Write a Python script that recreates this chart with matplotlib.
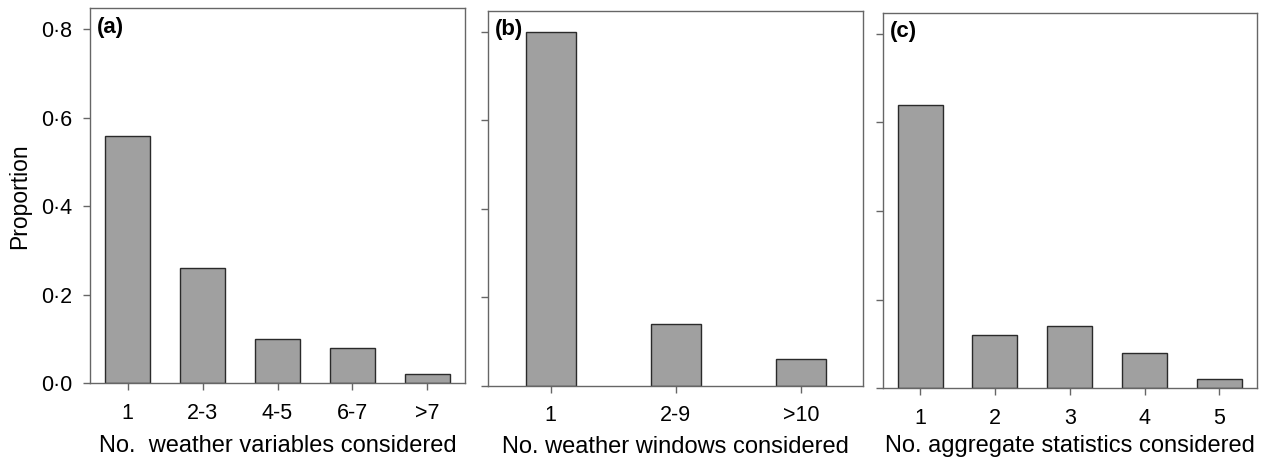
import matplotlib
matplotlib.use("Agg")
import matplotlib.pyplot as plt

plt.rcParams['font.family'] = ['Liberation Sans', 'DejaVu Sans']

cats_a = ["1", "2-3", "4-5", "6-7", ">7"]
vals_a = [0.56, 0.26, 0.10, 0.08, 0.02]
cats_b = ["1", "2-9", ">10"]
vals_b = [0.80, 0.14, 0.06]
cats_c = ["1", "2", "3", "4", "5"]
vals_c = [0.64, 0.12, 0.14, 0.08, 0.02]

yticks = [0.0, 0.2, 0.4, 0.6, 0.8]
ytick_labels = ["0\u00b70", "0\u00b72", "0\u00b74", "0\u00b76", "0\u00b78"]

xlabels = ["No.  weather variables considered",
           "No. weather windows considered",
           "No. aggregate statistics considered"]
panel_tags = ["(a)", "(b)", "(c)"]

W, H = 1277, 458
fig = plt.figure(figsize=(W / 100, H / 100), dpi=100)

# (left, top, right, bottom) in pixels
boxes = [(90, 8.3, 465, 383.3), (488.3, 10.7, 863.3, 385.7), (882.7, 12.7, 1256.7, 388.3)]
widths = [0.61, 0.40, 0.60]
label_pads = [8, 7, 4.5]
data = [(cats_a, vals_a), (cats_b, vals_b), (cats_c, vals_c)]

spine_col = "#666666"
for i, ((l, t, r, b), (cats, vals), bw) in enumerate(zip(boxes, data, widths)):
    ax = fig.add_axes([l / W, (H - b) / H, (r - l) / W, (b - t) / H])
    x = list(range(len(cats)))
    ax.bar(x, vals, width=bw, color="#a0a0a0", edgecolor="#2a2a2a", linewidth=1.0, zorder=2)
    ax.set_xlim(-0.5, len(cats) - 0.5)
    ax.set_ylim(0, 0.8475)
    ax.set_xticks(x)
    ax.set_xticklabels(cats)
    ax.set_yticks(yticks)
    if i == 0:
        ax.set_yticklabels(ytick_labels)
        ax.set_ylabel("Proportion", fontsize=16.5, labelpad=7)
    else:
        ax.set_yticklabels([])
    ax.tick_params(axis='both', direction='out', length=5, width=1, color=spine_col,
                   labelsize=15.5)
    ax.tick_params(axis='x', pad=9)
    ax.tick_params(axis='y', pad=8)
    for s in ax.spines.values():
        s.set_color(spine_col)
        s.set_linewidth(1.0)
    ax.set_xlabel(xlabels[i], fontsize=17, labelpad=label_pads[i])
    ax.text(0.018, 0.978, panel_tags[i], transform=ax.transAxes, ha='left', va='top',
            fontsize=16, fontweight='bold')

fig.savefig("out.png", dpi=100)
